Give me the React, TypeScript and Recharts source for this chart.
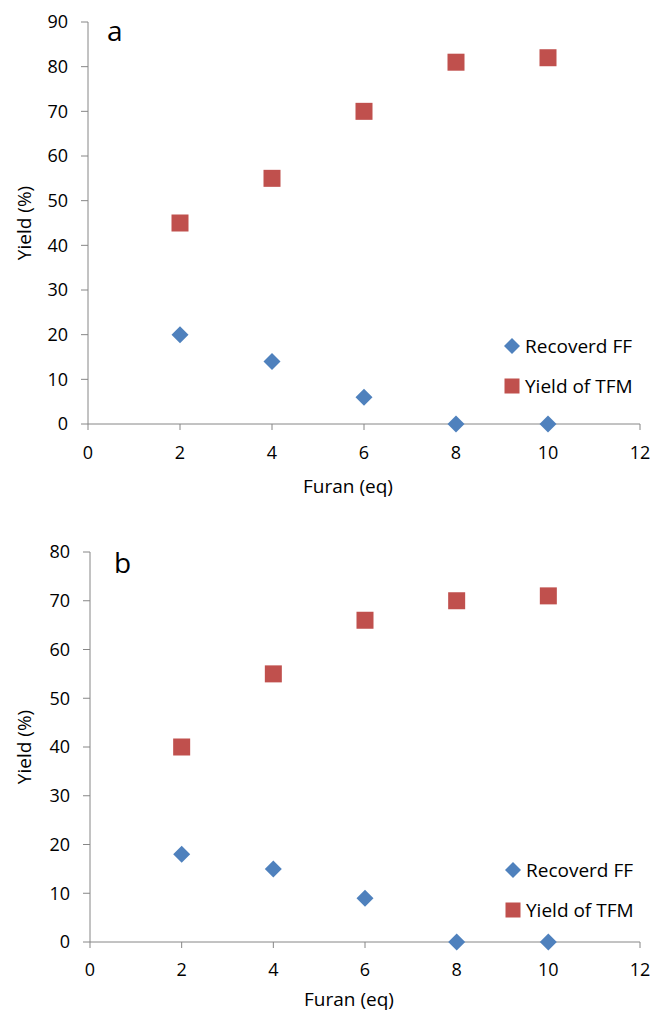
import React from 'react';
import { ScatterChart, Scatter, XAxis, YAxis, Legend } from 'recharts';

const furanEq = [2, 4, 6, 8, 10];
const recoveredFF_a = [20, 14, 6, 0, 0];
const yieldTFM_a = [45, 55, 70, 81, 82];
const recoveredFF_b = [18, 15, 9, 0, 0];
const yieldTFM_b = [40, 55, 66, 70, 71];
const xTicks = [0, 2, 4, 6, 8, 10, 12];
const yTicks_a = [0, 10, 20, 30, 40, 50, 60, 70, 80, 90];
const yTicks_b = [0, 10, 20, 30, 40, 50, 60, 70, 80];
const seriesNames = ['Recoverd FF', 'Yield of TFM'];

const BLUE = '#4F81BD';
const RED = '#C0504D';
const AXIS = '#868686';
const FONT = '"Open Sans", sans-serif';

const zip = (xs: number[], ys: number[]) => xs.map((x, i) => ({ x, y: ys[i] }));

const DiamondShape = (props: any) => {
  const { cx, cy } = props;
  const r = 8.5;
  return <polygon points={`${cx},${cy - r} ${cx + r},${cy} ${cx},${cy + r} ${cx - r},${cy}`} fill={BLUE} />;
};
const SquareShape = (props: any) => {
  const { cx, cy } = props;
  const s = 17;
  return <rect x={cx - s / 2} y={cy - s / 2} width={s} height={s} fill={RED} />;
};

const LegendContent = (props: any) => {
  const { payload } = props;
  return (
    <div style={{ fontFamily: FONT, fontSize: 19, color: '#000', whiteSpace: 'nowrap' }}>
      {(payload || []).map((e: any, i: number) => (
        <div key={i} style={{ height: 40, display: 'flex', alignItems: 'center' }}>
          <svg width={16} height={16} style={{ marginRight: 5 }}>
            {e.type === 'diamond' ? (
              <polygon points="8,0 16,8 8,16 0,8" fill={BLUE} />
            ) : (
              <rect x={0.5} y={0.5} width={15} height={15} fill={RED} />
            )}
          </svg>
          <span>{e.value}</span>
        </div>
      ))}
    </div>
  );
};

type PanelProps = {
  letter: string;
  ff: number[];
  tfm: number[];
  yTicks: number[];
  height: number;
  marginTop: number;
  yAxisWidth: number;
  xAxisHeight: number;
  xTickMargin: number;
  legendLeft: number;
  legendTop: number;
  letterX: number;
  letterY: number;
  xLabelOffset: number;
};

function yTicksMax(t: number[]) {
  return t[t.length - 1];
}

function Panel(p: PanelProps) {
  const tickStyle = { fontFamily: FONT, fontSize: 18, fill: '#000' };
  const titleStyle = { fontFamily: FONT, fontSize: 19, fill: '#000' };
  return (
    <div style={{ position: 'relative', width: 651, height: p.height }}>
      <ScatterChart
        width={651}
        height={p.height}
        margin={{ top: p.marginTop, right: 11, bottom: 0, left: 0 }}
      >
        <XAxis
          type="number"
          dataKey="x"
          domain={[0, 12]}
          ticks={xTicks}
          height={p.xAxisHeight}
          stroke={AXIS}
          tickSize={6}
          tickMargin={p.xTickMargin}
          tick={tickStyle}
          label={{
            value: 'Furan (eq)',
            position: 'insideBottom',
            offset: p.xLabelOffset,
            dx: -16,
            style: titleStyle,
          }}
        />
        <YAxis
          type="number"
          dataKey="y"
          domain={[0, yTicksMax(p.yTicks)]}
          ticks={p.yTicks}
          width={p.yAxisWidth}
          stroke={AXIS}
          tickSize={7}
          tickMargin={13}
          tick={tickStyle}
          label={{
            value: 'Yield (%)',
            angle: -90,
            position: 'insideLeft',
            offset: 24,
            style: { ...titleStyle, textAnchor: 'middle' },
          }}
        />
        <Legend
          layout="vertical"
          align="center"
          verticalAlign="middle"
          content={<LegendContent />}
          wrapperStyle={{ left: p.legendLeft, top: p.legendTop, width: 'auto', bottom: 'auto', right: 'auto' }}
        />
        <Scatter
          name={seriesNames[0]}
          data={zip(furanEq, p.ff)}
          fill={BLUE}
          legendType="diamond"
          shape={DiamondShape}
          isAnimationActive={false}
        />
        <Scatter
          name={seriesNames[1]}
          data={zip(furanEq, p.tfm)}
          fill={RED}
          legendType="square"
          shape={SquareShape}
          isAnimationActive={false}
        />
      </ScatterChart>
      <svg
        width={651}
        height={p.height}
        style={{ position: 'absolute', left: 0, top: 0, pointerEvents: 'none' }}
      >
        <text x={p.letterX} y={p.letterY} fontFamily={FONT} fontSize={28} fill="#000">
          {p.letter}
        </text>
      </svg>
    </div>
  );
}

export default function App() {
  return (
    <div style={{ position: 'absolute', left: 0, top: 0, width: 651, height: 1011, background: '#fff' }}>
      <Panel
        letter="a"
        ff={recoveredFF_a}
        tfm={yieldTFM_a}
        yTicks={yTicks_a}
        height={505}
        marginTop={22}
        yAxisWidth={88}
        xAxisHeight={81}
        xTickMargin={16}
        legendLeft={504}
        legendTop={326}
        letterX={107}
        letterY={41}
        xLabelOffset={12}
      />
      <Panel
        letter="b"
        ff={recoveredFF_b}
        tfm={yieldTFM_b}
        yTicks={yTicks_b}
        height={506}
        marginTop={47}
        yAxisWidth={90}
        xAxisHeight={69}
        xTickMargin={15}
        legendLeft={505}
        legendTop={345}
        letterX={114}
        letterY={68}
        xLabelOffset={5}
      />
    </div>
  );
}
